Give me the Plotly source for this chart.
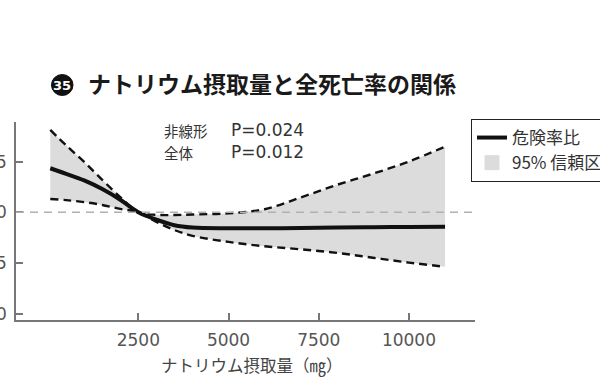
import plotly.graph_objects as go

# ---- data ----
sodium = [60, 500, 1000, 1500, 2000, 2500, 3000, 3500, 4000, 5000, 6000, 7000, 8000, 9000, 10000, 11000]
hazard = [1.434, 1.379, 1.314, 1.229, 1.124, 1.0, 0.928, 0.872, 0.849, 0.842, 0.842, 0.845, 0.85, 0.853, 0.855, 0.857]
ci_upper = [1.812, 1.66, 1.496, 1.32, 1.15, 1.0, 0.975, 0.973, 0.978, 0.99, 1.03, 1.146, 1.27, 1.38, 1.50, 1.647]
ci_lower = [1.131, 1.12, 1.10, 1.072, 1.033, 1.0, 0.905, 0.825, 0.768, 0.708, 0.665, 0.635, 0.60, 0.552, 0.504, 0.463]
x_ticks = [2500, 5000, 7500, 10000]
y_ticks = [0.0, 0.5, 1.0, 1.5]

title_text = "ナトリウム摂取量と全死亡率の関係"
title_num = "35"
xaxis_title = "ナトリウム摂取量（㎎）"
name_hr = "危険率比"
name_ci = "95% 信頼区間"
stats_labels = ["非線形", "全体"]
stats_values = ["P=0.024", "P=0.012"]

# ---- layout geometry (pixels) ----
W, H = 600, 388
L, R, T, B = 16, 475, 122, 320
pw, ph = R - L, B - T


def px(x):
    return (x - L) / pw


def py(y):
    return (B - y) / ph


CJK = "Noto Sans CJK JP"
LAT = "DejaVu Sans"
BAND = "#dcdcdc"

fig = go.Figure()

# confidence band (fill between lower and upper)
fig.add_trace(go.Scatter(x=sodium, y=ci_lower, mode="lines", line=dict(width=0, shape="spline"),
                         showlegend=False, hoverinfo="skip"))
fig.add_trace(go.Scatter(x=sodium, y=ci_upper, mode="lines", line=dict(width=0, shape="spline"),
                         fill="tonexty", fillcolor=BAND, showlegend=False, hoverinfo="skip"))
# dashed CI bounds
for arr in (ci_upper, ci_lower):
    fig.add_trace(go.Scatter(x=sodium, y=arr, mode="lines",
                             line=dict(color="#111111", width=2.4, dash="8px,5px", shape="spline"),
                             showlegend=False))
# hazard ratio
fig.add_trace(go.Scatter(x=sodium, y=hazard, mode="lines",
                         line=dict(color="#111111", width=4, shape="spline"),
                         name=name_hr, legendrank=1))
# legend entry for the confidence band (square swatch)
fig.add_trace(go.Scatter(x=[None], y=[None], mode="markers",
                         marker=dict(symbol="square", size=15, color=BAND),
                         name=name_ci, legendrank=2))

# reference line at 1.0
fig.add_shape(type="line", xref="paper", yref="y", x0=0, x1=1, y0=1, y1=1,
              line=dict(color="#b0b0b0", width=1.5, dash="8px,6px"), layer="above")

# circled number
fig.add_shape(type="circle", xref="paper", yref="paper",
              x0=px(51.5), x1=px(73), y0=py(95.5), y1=py(74.5),
              fillcolor="#111111", line=dict(color="#111111", width=1))
fig.add_annotation(xref="paper", yref="paper", x=px(62.3), y=py(85), text="<b>%s</b>" % title_num,
                   showarrow=False, font=dict(family=LAT, size=13, color="white"),
                   xanchor="center", yanchor="middle")

# statistics text
for i, (lab, val) in enumerate(zip(stats_labels, stats_values)):
    yy = py(130 + 22 * i)
    fig.add_annotation(xref="paper", yref="paper", x=px(162), y=yy, text=lab, showarrow=False,
                       xanchor="left", yanchor="middle", font=dict(family=CJK, size=14.5, color="#333333"))
    fig.add_annotation(xref="paper", yref="paper", x=px(229), y=yy, text=val, showarrow=False,
                       xanchor="left", yanchor="middle", font=dict(family=LAT, size=17, color="#333333"))

# x-axis title
fig.add_annotation(xref="paper", yref="paper", x=px(252), y=py(365), text=xaxis_title, showarrow=False,
                   xanchor="center", yanchor="middle", font=dict(family=CJK, size=16.5, color="#444444"))

fig.update_layout(
    width=W, height=H,
    margin=dict(l=L, r=W - R, t=T, b=H - B, autoexpand=False),
    paper_bgcolor="white", plot_bgcolor="white",
    title=dict(text="<b>%s</b>" % title_text, xref="container", yref="container",
               x=88 / W, y=1 - 85 / H, xanchor="left", yanchor="middle",
               font=dict(family=CJK, size=23, color="#1a1a1a")),
    legend=dict(x=px(471), y=py(119), xanchor="left", yanchor="top", traceorder="normal",
                bordercolor="#222222", borderwidth=1, bgcolor="white",
                font=dict(family=CJK, size=17, color="#333333"),
                itemwidth=30, tracegroupgap=0),
    xaxis=dict(range=[-890, 11830], tickvals=x_ticks, tickformat="d", ticks="inside", ticklen=7,
               tickwidth=1.5, tickcolor="#777777", showline=True, linecolor="#777777", linewidth=1.5,
               showgrid=False, zeroline=False, ticklabelstandoff=4,
               tickfont=dict(family=LAT, size=17, color="#555555")),
    yaxis=dict(range=[-0.062, 1.89], tickvals=y_ticks, tickformat=".1f", ticks="inside", ticklen=7,
               tickwidth=1.5, tickcolor="#777777", showline=True, linecolor="#777777", linewidth=1.5,
               showgrid=False, zeroline=False, ticklabelstandoff=4,
               tickfont=dict(family=LAT, size=17, color="#555555")),
)

fig.write_html("out.html", config={"displayModeBar": False},
               post_script="document.body.style.margin='0px';")
